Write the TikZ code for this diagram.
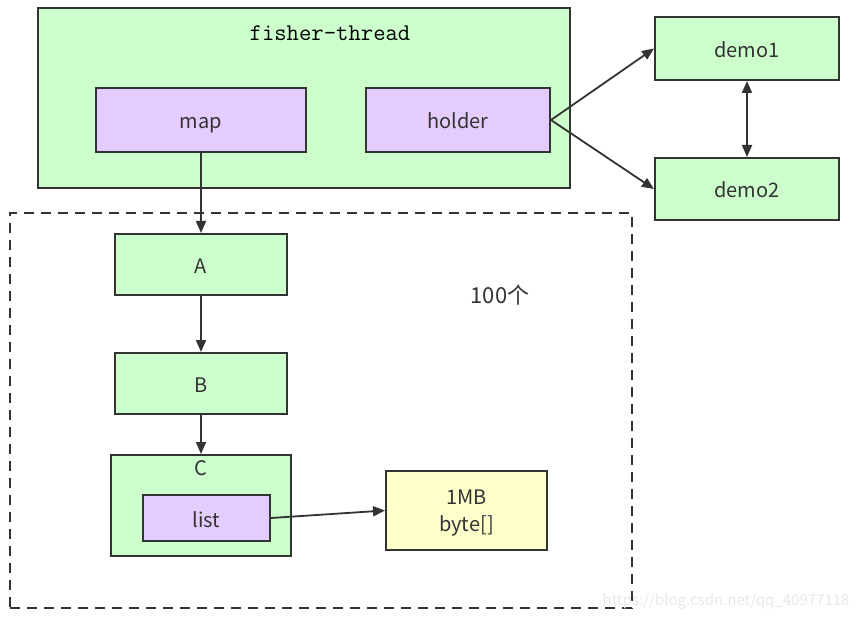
\documentclass[tikz,border=0pt]{standalone}
\usepackage{fontspec}
\setmainfont{Noto Sans CJK SC}
\usetikzlibrary{arrows.meta}
\definecolor{gfill}{HTML}{CCFFCC}
\definecolor{pfill}{HTML}{E5CCFF}
\definecolor{yfill}{HTML}{FFFFCC}
\definecolor{edge}{HTML}{333333}
\begin{document}
\begin{tikzpicture}[x=1pt,y=-1pt,
  lbl/.style={text=edge, font=\fontsize{20}{24}\selectfont},
  box/.style={draw=edge, line width=2pt, inner sep=0pt, lbl, align=center, text height=18pt, text depth=0pt},
  gbox/.style={box, fill=gfill},
  pbox/.style={box, fill=pfill},
  ybox/.style={box, fill=yfill},
  arr/.style={draw=edge, line width=1.8pt, -{Triangle[length=12pt,width=10pt]}},
  darr/.style={draw=edge, line width=1.8pt, {Triangle[length=12pt,width=10pt]}-{Triangle[length=12pt,width=10pt]}}
]
\useasboundingbox (0,0) rectangle (861,620);
% fisher-thread container
\node[gbox, minimum width=532pt, minimum height=180pt] (ft) at (304,98) {};
\node[text=black, font=\ttfamily\fontsize{24}{28}\selectfont] (ftl) at (330,33) {fisher-thread};
\node[pbox, minimum width=210pt, minimum height=64pt] (map) at (201,120) {map};
\node[pbox, minimum width=184pt, minimum height=64pt] (holder) at (458,120) {holder};
% demos
\node[gbox, minimum width=184pt, minimum height=63pt] (d1) at (747,48.5) {demo1};
\node[gbox, minimum width=184pt, minimum height=62pt] (d2) at (747,189) {demo2};
% dashed region
\node[draw=edge, line width=2pt, dash pattern=on 10pt off 7pt, minimum width=622pt, minimum height=395pt, inner sep=0pt] (grp) at (321,410.5) {};
\node[lbl, font=\fontsize{22}{26}\selectfont] (cnt) at (500,295) {100个};
% A, B, C
\node[gbox, minimum width=172pt, minimum height=61pt] (A) at (201,264.5) {A};
\node[gbox, minimum width=172pt, minimum height=61pt] (B) at (201,383.5) {B};
\node[gbox, minimum width=180pt, minimum height=101pt] (C) at (201,505.5) {};
\node[lbl] (Cl) at (201,468) {C};
\node[pbox, minimum width=127pt, minimum height=46pt] (list) at (206.5,518) {list};
\node[ybox, minimum width=161pt, minimum height=79pt] (mb) at (466.5,510.5) {};
\node[lbl, align=center, font=\fontsize{20}{27}\selectfont] (mbt) at (466.5,513) {1MB\\byte[]};
% connectors
\draw[arr] (map.south) -- (A.north);
\draw[arr] (A.south) -- (B.north);
\draw[arr] (B.south) -- (C.north);
\draw[arr] (holder.east) -- (d1.west);
\draw[arr] (holder.east) -- (d2.west);
\draw[darr] (d1.south) -- (d2.north);
\draw[arr] (list.east) -- (mb.west);
% watermark
\node[text=black!9, font=\fontsize{15}{18}\selectfont, anchor=east] (wm) at (853,601) {https://blog.csdn.net/qq\_40977118};
\end{tikzpicture}
\end{document}
